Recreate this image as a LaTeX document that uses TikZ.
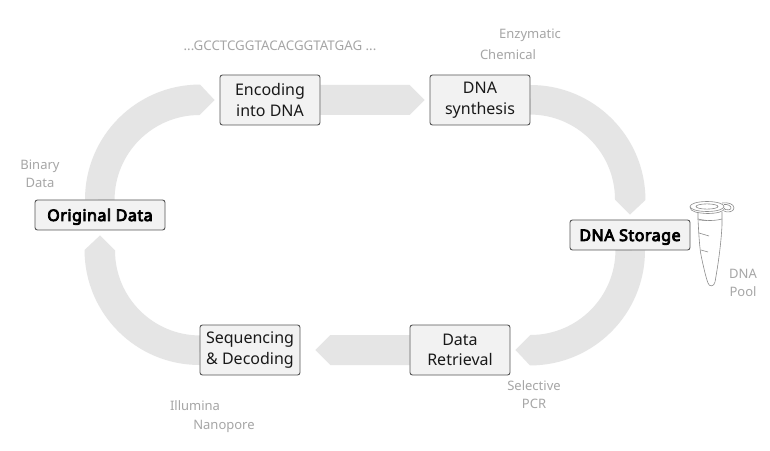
\documentclass[tikz,border=0pt]{standalone}
\usepackage{fontspec}
\setmainfont{Noto Sans}
\newfontfamily\keyfont{Noto Sans}[FakeBold=5,LetterSpace=3.2]
\pgfdeclarelayer{bands}
\pgfsetlayers{bands,main}
\definecolor{bandc}{HTML}{E5E5E5}
\definecolor{boxfill}{HTML}{F2F2F2}
\definecolor{boxline}{HTML}{555555}
\definecolor{lab}{HTML}{A6A6A6}
\definecolor{tubec}{HTML}{8C8C8C}
\tikzset{
  stagebox/.style={draw=boxline,fill=boxfill,rounded corners=2.5pt,line width=0.9pt,minimum height=50pt,minimum width=100pt,align=center,inner sep=0pt,font=\fontsize{16}{20.5}\selectfont,text=black!90},
  keybox/.style={stagebox,minimum height=30pt,text height=12pt,text depth=0pt,text=black,font=\keyfont\fontsize{16}{20}\selectfont},
  note/.style={text=lab,font=\fontsize{13}{18}\selectfont,align=center,inner sep=0pt},
  band/.style={fill=bandc,draw=none},
  tubeline/.style={draw=tubec,line width=0.6pt,fill=none}
}
\begin{document}
\begin{tikzpicture}[x=1pt,y=1pt]
\useasboundingbox (0,0) rectangle (770,450);
% stages
\node[keybox,minimum width=130pt] (orig) at (100,235) {Original Data};
\node[stagebox] (enc) at (270,350) {Encoding\\into DNA};
\node[stagebox] (syn) at (480,350) {DNA\\synthesis};
\node[keybox,minimum width=120pt] (sto) at (630,215) {DNA Storage};
\node[stagebox] (ret) at (460,100) {Data\\Retrieval};
\node[stagebox] (seq) at (250,100) {Sequencing\\\& Decoding};
% bands, from stage to stage
\begin{pgfonlayer}{bands}
\fill[white] (0,0) rectangle (770,450);
\fill[band] ([xshift=-15pt]orig.north) arc[start angle=180,end angle=90,radius=115pt] -- ([xshift=-5pt]enc.west) -- ++(-15,-15) arc[start angle=90,end angle=180,radius=85pt] -- cycle;
\fill[band] ([yshift=15pt]enc.east) -- ([shift={(-20pt,15pt)}]syn.west) -- ([xshift=-5pt]syn.west) -- ([shift={(-20pt,-15pt)}]syn.west) -- ([yshift=-15pt]enc.east) -- cycle;
\fill[band] ([yshift=15pt]syn.east) arc[start angle=90,end angle=0,radius=115pt] -- ([yshift=5pt]sto.north) -- ++(-15,15) arc[start angle=0,end angle=90,radius=85pt] -- cycle;
\fill[band] ([xshift=15pt]sto.south) arc[start angle=0,end angle=-90,radius=115pt] -- ([xshift=5pt]ret.east) -- ++(15,15) arc[start angle=-90,end angle=0,radius=85pt] -- cycle;
\fill[band] ([yshift=15pt]ret.west) -- ([shift={(30pt,15pt)}]seq.east) -- ([xshift=15pt]seq.east) -- ([shift={(30pt,-15pt)}]seq.east) -- ([yshift=-15pt]ret.west) -- cycle;
\fill[band] ([yshift=-15pt]seq.west) arc[start angle=270,end angle=180,radius=115pt] -- ([yshift=-5pt]orig.south) -- ++(15,-15) arc[start angle=180,end angle=270,radius=85pt] -- cycle;
\end{pgfonlayer}
% notes
\node[note,font=\fontsize{13.3}{18}\selectfont] (n1) at (280,404) {...GCCTCGGTACACGGTATGAG ...};
\node[note] (n2) at (530,415) {Enzymatic};
\node[note] (n3) at (508,395) {Chemical};
\node[note] (n4) at (40,276) {Binary\\Data};
\node[note] (n5) at (743,167) {DNA\\Pool};
\node[note] (n6) at (534,55) {Selective\\PCR};
\node[note] (n7) at (195,44) {Illumina};
\node[note] (n8) at (224,24) {Nanopore};
% tube
\draw[tubeline] (698,238) -- (698,231) .. controls (699,210) and (700,200) .. (701,195) .. controls (703,185) and (706,172) .. (708,167) .. controls (709,163) and (714,163) .. (715,168) .. controls (718,185) and (721,205) .. (722,225) -- (722,238);
\draw[tubeline] (698,231) .. controls (705,229) and (715,229) .. (722,231);
\draw[tubeline] (699,230) -- (707,229.5) (699,217) -- (709,214) (701,200) -- (708,198);
\draw[tubeline] (707,243.5) ellipse[x radius=17pt,y radius=5pt];
\draw[tubeline] (707,243.5) ellipse[x radius=11pt,y radius=2.6pt];
\draw[tubeline] (690,243) .. controls (690,238) and (698,237) .. (707,236.5) .. controls (716,236.5) and (724,238) .. (725,242);
\draw[tubeline] (722,247) .. controls (728,248) and (734,246) .. (734,242) .. controls (734,238) and (727,237) .. (724,239);
\draw[tubeline] (724,245.5) .. controls (728,246) and (731,244) .. (731,242) .. controls (731,240) and (727,239.5) .. (725,240.5);
\end{tikzpicture}
\end{document}
